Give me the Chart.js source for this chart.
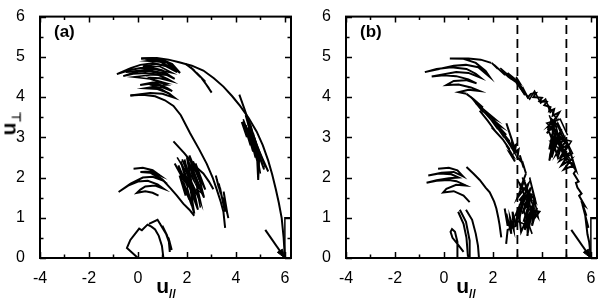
<!DOCTYPE html>
<html>
<head>
<meta charset="utf-8">
<script src="https://cdn.jsdelivr.net/npm/chart.js@4.4.1/dist/chart.umd.min.js"></script>
<style>
  body { margin:0; background:#fff; font-family:"Liberation Sans", Arial, sans-serif; }
  #wrap { position:relative; width:599px; height:302px; overflow:hidden; }
  .box { position:absolute; top:0; height:302px; }
  .tag { position:absolute; font-weight:bold; font-size:17px; color:#000; }
  .ttl { position:absolute; font-weight:bold; font-size:21px; color:#000; white-space:nowrap; transform:translate(-50%,-50%); }
  .ttl sub { font-size:12px; vertical-align:-5px; }
  .rot { transform:translate(-50%,-50%) rotate(-90deg); }
</style>
</head>
<body>
<div id="wrap">
  <div class="box" style="left:0;width:300px"><canvas id="chartA"></canvas></div>
  <div class="box" style="left:300px;width:299px"><canvas id="chartB"></canvas></div>
  <div class="tag" style="left:54px;top:22px">(a)</div>
  <div class="tag" style="left:360px;top:22px">(b)</div>
  <div class="ttl" style="left:166px;top:287px">u<sub>//</sub></div>
  <div class="ttl" style="left:466px;top:287px">u<sub>//</sub></div>
  <div class="ttl rot" style="left:10px;top:124px">u<sub>&perp;</sub></div>
</div>
<script>
// axis ticks
var xTickVals = [-4,-3,-2,-1,0,1,2,3,4,5,6];
var xLabelVals = [-4,-2,0,2,4,6];
var yTickVals = [0,0.5,1,1.5,2,2.5,3,3.5,4,4.5,5,5.5,6];
var yLabelVals = [0,1,2,3,4,5,6];

// ---- panel (a) trajectories [u_par, u_perp]
var aArrow = [[5.2,0.7],[6.0,0.0]];
var aArrowHead = [[6.0,0.0],[5.9,0.22],[5.69,0.14],[6.0,0.0]];
var aBox = [[6.0,0.0],[6.0,1.0],[6.25,1.0]];
var aOuterArc = [[6.0,0.0],[5.95,0.5],[5.87,0.99],[5.75,1.38],[5.63,1.71],[5.48,2.08],[5.32,2.42],[5.1,2.8],[4.85,3.14],[4.52,3.48],[4.17,3.78],[3.85,4.02],[3.49,4.26],[3.1,4.47],[2.67,4.66],[2.2,4.78],[1.72,4.86],[1.25,4.93],[0.77,4.97],[0.13,4.96]];
var aTopFeather = [[0.13,4.96],[0.6,4.97],[1.0,4.93],[1.4,4.82],[1.72,4.6],[1.2,4.85],[0.7,4.93],[0.4,4.9],[0.9,4.88],[1.3,4.75],[1.6,4.62],[1.1,4.78],[0.6,4.84],[0.1,4.8],[-0.3,4.72],[-0.86,4.57],[-0.4,4.66],[0.1,4.72],[0.6,4.73],[1.0,4.66],[1.32,4.52],[1.5,4.45],[1.0,4.6],[0.5,4.66],[0.0,4.64],[-0.6,4.52],[-0.2,4.58],[0.3,4.6],[0.8,4.56],[1.2,4.45],[1.35,4.4],[0.9,4.47],[0.5,4.48],[0.7,4.42],[1.1,4.35],[0.6,4.36],[0.09,4.3],[0.5,4.33],[0.9,4.3],[1.2,4.22],[1.4,4.15],[1.0,4.24],[0.6,4.25],[0.3,4.22],[0.8,4.2],[1.25,4.1],[1.5,3.98],[1.0,4.08],[0.5,4.1],[-0.31,4.04]];
var aTopFeather2 = [[0.3,4.95],[1.1,4.9],[1.5,4.72],[0.8,4.82],[0.2,4.77],[0.9,4.76],[1.4,4.6],[0.6,4.7],[-0.5,4.62],[0.4,4.65],[1.1,4.55],[0.5,4.55],[-0.2,4.5],[0.5,4.45],[1.2,4.3],[0.6,4.28],[1.0,4.18],[1.35,4.05]];
var aTopRight = [[1.95,4.82],[2.3,4.66],[2.15,4.74],[2.55,4.5],[2.4,4.6],[2.75,4.38],[2.6,4.47],[2.9,4.22],[2.8,4.3],[3.01,4.11]];
var aInnerArc = [[-0.31,4.04],[0.2,4.06],[0.7,4.02],[1.1,3.92],[1.45,3.78],[1.75,3.55],[2.13,3.1],[2.5,2.7],[2.81,2.34],[3.05,2.0],[3.22,1.7],[3.38,1.4],[3.49,1.15],[3.56,0.75]];
var aInnerHair = [[3.18,2.05],[3.3,1.75],[3.22,1.95],[3.38,1.6],[3.3,1.85],[3.45,1.45],[3.35,1.75],[3.5,1.3],[3.4,1.6],[3.55,1.15],[3.45,1.5],[3.6,1.25],[3.5,1.65],[3.65,1.1],[3.55,1.4],[3.69,0.99]];
var aRightLong = [[4.14,4.06],[4.35,3.7],[4.6,3.25],[4.85,2.8],[5.1,2.45],[5.32,2.15]];
var aRightHair = [[4.24,3.38],[4.45,3.0],[4.3,3.4],[4.6,2.8],[4.4,3.3],[4.7,2.65],[4.5,3.25],[4.8,2.5],[4.55,3.15],[4.9,2.35],[4.6,3.05],[4.95,2.25],[4.7,3.1],[5.0,2.45],[4.75,2.95],[5.1,2.3],[4.8,2.85],[5.15,2.2],[4.85,2.7],[4.91,1.94],[4.95,2.5],[4.6,3.3],[4.4,3.55],[4.65,3.0]];
var aRightHair2 = [[4.3,3.45],[4.7,2.8],[4.5,3.35],[4.85,2.6],[4.6,3.25],[5.0,2.1],[4.75,3.0],[5.2,2.25]];
var aMidTop = [[1.45,2.9],[1.9,2.6],[2.3,2.3],[2.67,2.1],[2.9,1.9],[3.08,1.71]];
var aMidHair = [[1.5,2.35],[1.9,1.9],[1.65,2.3],[2.05,1.75],[1.75,2.4],[2.2,1.6],[1.9,2.45],[2.3,1.5],[2.0,2.5],[2.4,1.85],[2.1,2.55],[2.5,1.95],[2.25,2.4],[2.6,1.85],[2.35,2.35],[2.75,1.7],[2.45,2.1],[2.7,1.5],[2.35,1.95],[2.55,1.4],[2.25,1.8],[2.45,1.2],[2.15,1.7],[2.3,1.1],[2.0,1.75],[2.2,1.3],[1.85,1.9],[2.1,1.45],[1.7,2.05],[1.95,1.55]];
var aMidHair2 = [[1.6,2.5],[2.1,2.0],[1.8,2.45],[2.3,1.9],[2.1,2.3],[2.55,1.75],[2.25,2.2],[2.65,1.6],[2.4,1.7],[2.55,1.25]];
var aLowFeather = [[-0.18,2.22],[0.2,2.24],[0.6,2.18],[0.9,2.05],[0.5,2.15],[0.1,2.14],[0.5,2.12],[0.85,2.0],[1.0,1.93],[0.6,2.02],[0.2,2.0],[-0.3,1.85],[-0.79,1.64],[-0.4,1.8],[0.0,1.9],[0.4,1.92],[0.8,1.83],[1.05,1.72],[0.7,1.8],[0.3,1.78],[0.1,1.7],[-0.04,1.62],[0.3,1.66],[0.6,1.62],[0.84,1.55]];
var aLowArc = [[0.64,2.11],[1.0,1.95],[1.35,1.72],[1.59,1.55],[1.85,1.35],[2.1,1.2],[2.3,1.05]];
var aBottomPath = [[0.0,0.0],[-0.45,0.25],[-0.31,0.45],[0.05,0.73],[0.16,0.69],[0.39,0.83],[0.55,0.78],[0.7,0.71],[0.85,0.55],[0.98,0.3],[1.04,0.0]];
var aBottomHair = [[0.45,0.85],[0.8,0.95],[1.05,0.7],[0.9,0.85],[1.2,0.55],[1.0,0.8],[1.3,0.4],[1.15,0.6],[1.38,0.2],[1.25,0.5],[1.3,0.15]];

// ---- panel (b) trajectories
var bArrow = [[5.2,0.7],[6.0,0.0]];
var bArrowHead = [[6.0,0.0],[5.9,0.22],[5.69,0.14],[6.0,0.0]];
var bBox = [[6.0,0.0],[6.0,1.0],[6.25,1.0]];
var bDash3 = [[3,0],[3,6]];
var bDash5 = [[5,0],[5,6]];
var bRightPath = [[6.0,0.0],[5.93,0.4],[5.86,0.59],[5.8,0.9],[5.9,0.75],[5.73,1.15],[5.82,1.05],[5.65,1.35],[5.75,1.3],[5.52,1.55],[5.62,1.6],[5.45,1.75],[5.39,1.87],[5.5,1.9],[5.3,2.1],[5.39,2.18]];
var bRightMass = [[4.6,3.5],[4.3,3.3],[4.55,3.4],[4.2,3.1],[4.5,3.3],[4.3,2.7],[4.6,3.2],[4.4,2.5],[4.7,3.1],[4.5,2.7],[4.8,3.2],[4.55,2.9],[4.9,3.0],[4.6,2.6],[4.98,2.9],[4.7,2.7],[5.05,2.8],[4.75,2.5],[5.1,2.6],[4.8,2.3],[5.2,2.45],[4.9,2.2],[5.3,2.3],[5.0,2.5],[5.39,2.18],[5.1,2.75],[4.85,3.0],[4.65,3.3],[4.4,3.45],[4.25,3.2],[4.45,2.9],[4.3,2.42],[4.5,2.8],[4.65,2.5],[4.8,2.8]];
var bRightMass2 = [[4.3,3.55],[4.9,2.6],[4.5,3.4],[5.0,2.4],[4.4,3.2],[4.95,2.9],[4.35,2.9],[5.1,2.5],[4.55,3.0],[5.2,2.9],[4.7,2.4],[5.25,2.6],[4.65,3.35],[4.35,2.6],[4.8,3.0],[4.2,3.35],[4.75,3.45],[5.05,3.05]];
var bUpperRight = [[1.95,4.85],[2.2,4.7],[2.05,4.8],[2.5,4.55],[2.35,4.65],[2.75,4.45],[2.6,4.52],[3.0,4.35],[2.85,4.45],[3.15,4.2],[3.05,4.35],[3.3,4.12],[3.2,4.25],[3.42,3.99],[3.55,4.08],[3.76,4.1],[3.65,4.0],[4.0,3.98],[3.9,3.9],[4.2,3.88],[4.1,3.8],[4.35,3.75],[4.3,3.65],[4.5,3.7],[4.44,3.54],[4.71,3.62],[4.6,3.5]];
var bUpperHair = [[2.3,4.72],[2.9,4.4],[2.6,4.6],[3.1,4.35],[2.95,4.5],[3.3,4.05],[3.1,4.25],[3.5,3.95],[3.7,4.15],[3.95,3.85],[4.15,3.95],[4.35,3.6],[4.25,3.8],[4.6,3.45]];
var bTopFeather = [[1.93,4.85],[1.5,4.93],[1.0,4.96],[0.24,4.96],[0.8,4.95],[1.3,4.85],[1.7,4.65],[1.87,4.5],[1.4,4.74],[0.9,4.8],[0.4,4.78],[-0.2,4.7],[-0.78,4.62],[-0.3,4.7],[0.3,4.74],[0.92,4.7],[1.3,4.58],[1.5,4.48],[1.0,4.6],[0.5,4.62],[-0.5,4.51],[0.0,4.54],[0.5,4.52],[1.0,4.44],[1.33,4.34],[0.9,4.42],[0.4,4.4],[0.1,4.3],[0.6,4.31],[1.1,4.24],[1.46,4.15],[1.0,4.18],[0.6,4.12],[0.92,4.08]];
var bMidArc = [[0.92,4.08],[1.2,3.95],[1.59,3.74],[1.3,3.85],[1.8,3.6],[2.07,3.46],[1.8,3.55],[2.3,3.28],[2.1,3.35],[2.54,3.06],[2.35,3.15],[2.68,2.9],[2.55,2.98],[2.81,2.75],[2.95,2.82],[2.88,2.62],[3.05,2.7],[3.0,2.5],[3.15,2.4],[3.1,2.55],[3.25,2.25],[3.2,2.4],[3.35,2.1]];
var bMidArc2 = [[1.46,3.66],[1.8,3.4],[2.1,3.15],[1.95,3.25],[2.4,2.95],[2.68,2.7],[2.55,2.8],[2.8,2.55],[2.7,2.6],[2.9,2.4]];
var bBandHair = [[1.1,4.0],[1.6,3.62],[1.4,3.8],[1.9,3.45],[1.7,3.62],[2.2,3.2],[2.0,3.4],[2.45,3.0],[2.25,3.2],[2.7,2.8],[2.5,3.0],[2.9,2.6],[2.75,2.9],[3.0,2.6]];
var bMidSpike = [[2.55,3.35],[2.85,2.8],[2.6,3.25],[2.9,2.7]];
var bMidMass = [[3.35,2.1],[3.1,1.7],[3.3,1.95],[3.0,1.5],[3.45,1.85],[3.15,1.3],[3.55,1.75],[3.2,1.1],[3.6,1.6],[3.25,0.9],[3.5,1.4],[3.3,0.7],[3.6,1.3],[3.4,0.55],[3.55,1.0],[3.7,1.5],[3.6,0.8],[3.8,1.25],[3.65,0.95],[3.9,1.15],[3.5,1.2],[3.1,1.45],[3.3,1.6],[2.95,1.1],[3.2,1.3],[2.9,0.8],[3.05,1.2],[3.15,0.65],[3.4,1.0],[3.42,0.55]];
var bMidMass2 = [[3.0,1.95],[3.4,1.4],[3.1,1.85],[3.55,1.5],[3.2,2.0],[3.7,1.2],[3.3,1.9],[3.6,1.0],[3.4,1.7],[3.75,1.4],[3.5,2.0],[3.85,1.0],[3.3,1.5],[3.05,0.9],[3.45,0.8],[3.25,1.2],[3.6,0.6]];
var bLowArc = [[0.92,2.26],[1.2,2.1],[1.46,1.94],[1.7,1.75],[1.87,1.63],[2.05,1.4],[2.14,1.23],[2.22,1.0],[2.27,0.83],[2.34,0.51]];
var bLowHair = [[2.48,1.23],[2.6,0.8],[2.55,1.1],[2.75,0.6],[2.7,1.0],[2.85,0.7],[2.8,1.15],[2.95,0.8],[2.6,0.7],[2.54,0.35]];
var bLowFeather = [[-0.24,2.22],[0.2,2.24],[0.55,2.18],[0.78,2.03],[0.4,2.14],[-0.1,2.12],[-0.64,2.05],[-0.2,2.1],[0.3,2.08],[0.6,2.0],[0.2,1.98],[-0.3,1.93],[-0.71,1.87],[-0.3,1.92],[0.2,1.94],[0.51,1.91],[0.9,1.8],[0.5,1.82],[0.1,1.72],[-0.03,1.63],[0.4,1.66],[0.8,1.55],[1.05,1.39]];
var bStrand1 = [[0.58,1.15],[0.8,0.85],[0.92,0.5],[0.98,0.03]];
var bStrand2 = [[0.65,1.2],[0.9,0.9],[1.05,0.43],[1.05,0.0]];
var bStrand3 = [[0.9,1.2],[1.15,0.95],[1.3,0.6],[1.39,0.3],[1.43,0.0]];
var bLoop = [[0.55,0.0],[0.55,0.4],[0.45,0.65],[0.33,0.72],[0.27,0.65],[0.35,0.5],[0.55,0.35],[0.8,0.15]];

var line = function(pts, extra) {
  return Object.assign({
    data: pts.map(function(p){ return {x:p[0], y:p[1]}; }),
    showLine: true, borderColor: '#000', borderWidth: 2,
    pointRadius: 0, tension: 0, fill: false
  }, extra || {});
};

// inward ticks on all four sides + frame
var frame = {
  id: 'frame',
  afterDatasetsDraw: function(chart) {
    var ctx = chart.ctx, a = chart.chartArea, x = chart.scales.x, y = chart.scales.y;
    ctx.save();
    ctx.strokeStyle = '#000';
    ctx.lineWidth = 1.5;
    ctx.beginPath();
    xTickVals.forEach(function(v){
      var px = Math.round(x.getPixelForValue(v)) + 0.5;
      var len = xLabelVals.indexOf(v) >= 0 ? 6 : 3.5;
      ctx.moveTo(px, a.bottom); ctx.lineTo(px, a.bottom - len);
      ctx.moveTo(px, a.top); ctx.lineTo(px, a.top + len);
    });
    yTickVals.forEach(function(v){
      var py = Math.round(y.getPixelForValue(v)) + 0.5;
      var len = yLabelVals.indexOf(v) >= 0 ? 6 : 3.5;
      ctx.moveTo(a.left, py); ctx.lineTo(a.left + len, py);
      ctx.moveTo(a.right, py); ctx.lineTo(a.right - len, py);
    });
    ctx.stroke();
    ctx.lineWidth = 2;
    ctx.strokeRect(a.left, a.top, a.right - a.left, a.bottom - a.top);
    ctx.restore();
  }
};

var makeChart = function(id, datasets, yWidth, padRight) {
  return new Chart(document.getElementById(id), {
    type: 'scatter',
    data: { datasets: datasets },
    options: {
      responsive: true, maintainAspectRatio: false, animation: false,
      layout: { padding: { left: 0, right: padRight, top: 7, bottom: 0 } },
      plugins: { legend: { display: false }, tooltip: { enabled: false } },
      scales: {
        x: {
          type: 'linear', min: -4, max: 6.25,
          grid: { display: false }, border: { display: false },
          afterBuildTicks: function(s){ s.ticks = xLabelVals.map(function(v){ return {value:v}; }); },
          afterFit: function(s){ s.height = 44; },
          ticks: { color: '#000', padding: 3, maxRotation: 0, font: { family: 'Liberation Sans', size: 16 } }
        },
        y: {
          type: 'linear', min: 0, max: 6,
          grid: { display: false }, border: { display: false },
          afterBuildTicks: function(s){ s.ticks = yLabelVals.map(function(v){ return {value:v}; }); },
          afterFit: function(s){ s.width = yWidth; },
          ticks: { color: '#000', padding: 7, font: { family: 'Liberation Sans', size: 16 } }
        }
      }
    },
    plugins: [frame]
  });
};

makeChart('chartA', [
  line(aArrow),
  line(aArrowHead, {fill: 'shape', backgroundColor: '#000', borderWidth: 1}),
  line(aBox, {borderWidth: 1.5}),
  line(aOuterArc), line(aTopFeather), line(aTopFeather2, {borderWidth: 1.6}), line(aTopRight),
  line(aInnerArc), line(aInnerHair), line(aRightLong), line(aRightHair), line(aRightHair2, {borderWidth: 1.6}),
  line(aMidTop), line(aMidHair), line(aMidHair2, {borderWidth: 1.6}),
  line(aLowFeather), line(aLowArc), line(aBottomPath), line(aBottomHair)
], 40, 9);

makeChart('chartB', [
  line(bDash3, {borderWidth: 1.8, borderDash: [9, 5]}),
  line(bDash5, {borderWidth: 1.8, borderDash: [9, 5]}),
  line(bArrow),
  line(bArrowHead, {fill: 'shape', backgroundColor: '#000', borderWidth: 1}),
  line(bBox, {borderWidth: 1.5}),
  line(bRightPath), line(bRightMass), line(bRightMass2, {borderWidth: 1.6}),
  line(bUpperRight), line(bUpperHair, {borderWidth: 1.6}), line(bTopFeather),
  line(bMidArc), line(bMidArc2), line(bBandHair, {borderWidth: 1.6}), line(bMidSpike),
  line(bMidMass), line(bMidMass2, {borderWidth: 1.6}), line(bLowArc), line(bLowHair), line(bLowFeather),
  line(bStrand1), line(bStrand2), line(bStrand3), line(bLoop)
], 46, 2);
</script>
</body>
</html>
